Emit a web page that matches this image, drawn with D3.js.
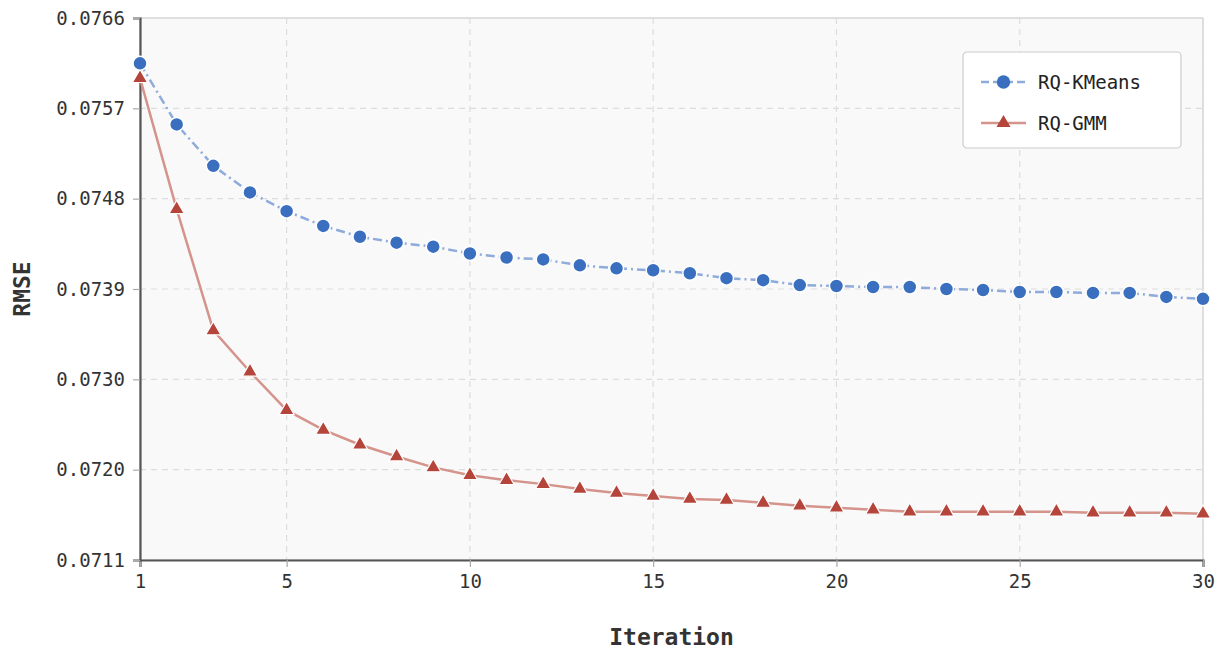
<!DOCTYPE html>
<html>
<head>
<meta charset="utf-8">
<script src="https://cdn.jsdelivr.net/npm/d3@7/dist/d3.min.js"></script>
<style>
  body { margin: 0; background: #fff; }
  svg { display: block; font-family: "DejaVu Sans Mono", monospace; }
</style>
</head>
<body>
<script>
// data
var iterations = d3.range(1, 31);
var kmeansRmse = [0.07614, 0.07552, 0.07510, 0.07483, 0.07464, 0.07449, 0.07438, 0.07432, 0.07428, 0.07421,
                  0.07417, 0.07415, 0.07409, 0.07406, 0.07404, 0.07401, 0.07396, 0.07394, 0.07389, 0.07388,
                  0.07387, 0.07387, 0.07385, 0.07384, 0.07382, 0.07382, 0.07381, 0.07381, 0.07377, 0.07375];
var gmmRmse = [0.07599, 0.07466, 0.07343, 0.07301, 0.07262, 0.07242, 0.07227, 0.07215, 0.07204, 0.07196,
               0.07191, 0.07187, 0.07182, 0.07178, 0.07175, 0.07172, 0.07171, 0.07168, 0.07165, 0.07163,
               0.07161, 0.07159, 0.07159, 0.07159, 0.07159, 0.07159, 0.07158, 0.07158, 0.07158, 0.07157];
var xTicks = [1, 5, 10, 15, 20, 25, 30];
var yTickLabels = ["0.0711", "0.0720", "0.0730", "0.0739", "0.0748", "0.0757", "0.0766"];
var Y_MIN = 0.0711, Y_MAX = 0.0766;

var W = 1228, H = 658;
var margin = {top: 18, right: 25, bottom: 98, left: 140};
var innerW = W - margin.left - margin.right;
var innerH = H - margin.top - margin.bottom;

var svg = d3.select("body").append("svg")
    .attr("width", W)
    .attr("height", H);

var g = svg.append("g")
    .attr("transform", "translate(" + margin.left + "," + margin.top + ")");

var x = d3.scaleLinear().domain([1, 30]).range([0, innerW]);
var y = d3.scaleLinear().domain([Y_MIN, Y_MAX]).range([innerH, 0]);

var yTicks = yTickLabels.map(function(d, i) { return Y_MIN + i * (Y_MAX - Y_MIN) / 6; });

// plot background + frame
g.append("rect")
    .attr("width", innerW).attr("height", innerH)
    .attr("fill", "#f9f9f9")
    .attr("stroke", "#cccccc").attr("stroke-width", 1.2);

// grid
g.append("g").selectAll("line.gx")
    .data(xTicks.slice(1))
    .enter().append("line")
    .attr("x1", function(d) { return x(d); }).attr("x2", function(d) { return x(d); })
    .attr("y1", 0).attr("y2", innerH)
    .attr("stroke", "#dddddd").attr("stroke-width", 1.2).attr("stroke-dasharray", "6,5");

g.append("g").selectAll("line.gy")
    .data(yTicks.slice(1, -1))
    .enter().append("line")
    .attr("x1", 0).attr("x2", innerW)
    .attr("y1", function(d) { return y(d); }).attr("y2", function(d) { return y(d); })
    .attr("stroke", "#dddddd").attr("stroke-width", 1.2).attr("stroke-dasharray", "6,5");

// axes
var xAxis = g.append("g")
    .attr("transform", "translate(0," + innerH + ")")
    .call(d3.axisBottom(x).tickValues(xTicks).tickSize(7).tickPadding(8).tickFormat(d3.format("d")));
var yAxis = g.append("g")
    .call(d3.axisLeft(y).tickValues(yTicks).tickSize(7).tickPadding(8)
        .tickFormat(function(d, i) { return yTickLabels[i]; }));

[xAxis, yAxis].forEach(function(ax) {
    ax.select(".domain").attr("stroke", "#555").attr("stroke-width", 2.2);
    ax.selectAll(".tick line").attr("stroke", "#aaa").attr("stroke-width", 1.2);
    ax.selectAll(".tick text").attr("fill", "#333").style("font-size", "19px")
        .style("font-family", "'DejaVu Sans Mono', monospace");
});

// series
var kmeansData = iterations.map(function(d, i) { return {x: d, y: kmeansRmse[i]}; });
var gmmData = iterations.map(function(d, i) { return {x: d, y: gmmRmse[i]}; });

var line = d3.line()
    .x(function(d) { return x(d.x); })
    .y(function(d) { return y(d.y); });

var BLUE_LINE = "#8eabdc", BLUE = "#3a6fc0";
var RED_LINE = "#d4948b", RED = "#b5443a";

g.append("path").datum(gmmData)
    .attr("d", line).attr("fill", "none")
    .attr("stroke", RED_LINE).attr("stroke-width", 2.5);

g.append("path").datum(kmeansData)
    .attr("d", line).attr("fill", "none")
    .attr("stroke", BLUE_LINE).attr("stroke-width", 2.5)
    .attr("stroke-dasharray", "9,4,2,4");

var tri = d3.symbol().type(d3.symbolTriangle).size(100);

g.append("g").selectAll("path")
    .data(gmmData)
    .enter().append("path")
    .attr("d", tri)
    .attr("transform", function(d) { return "translate(" + x(d.x) + "," + y(d.y) + ")"; })
    .attr("fill", RED).attr("stroke", "#fff").attr("stroke-width", 1.2);

g.append("g").selectAll("circle")
    .data(kmeansData)
    .enter().append("circle")
    .attr("cx", function(d) { return x(d.x); })
    .attr("cy", function(d) { return y(d.y); })
    .attr("r", 7)
    .attr("fill", BLUE).attr("stroke", "#fff").attr("stroke-width", 1.5);

// axis titles
svg.append("text")
    .attr("x", margin.left + innerW / 2).attr("y", 645)
    .attr("text-anchor", "middle")
    .style("font-size", "23px").style("font-weight", "bold").attr("fill", "#333")
    .text("Iteration");

svg.append("text")
    .attr("transform", "translate(30," + (margin.top + innerH / 2) + ") rotate(-90)")
    .attr("text-anchor", "middle")
    .style("font-size", "23px").style("font-weight", "bold").attr("fill", "#333")
    .text("RMSE");

// legend
var legend = svg.append("g").attr("transform", "translate(963,52)");
legend.append("rect")
    .attr("width", 218).attr("height", 96).attr("rx", 4)
    .attr("fill", "#fff").attr("stroke", "#cccccc").attr("stroke-width", 1.2);

var legendItems = [
    {name: "RQ-KMeans", lineColor: BLUE_LINE, color: BLUE, dash: "8,4", shape: "circle"},
    {name: "RQ-GMM", lineColor: RED_LINE, color: RED, dash: null, shape: "triangle"}
];

var item = legend.selectAll("g.item")
    .data(legendItems)
    .enter().append("g")
    .attr("transform", function(d, i) { return "translate(18," + (30 + i * 41) + ")"; });

item.append("line")
    .attr("x1", 0).attr("x2", 45)
    .attr("stroke", function(d) { return d.lineColor; })
    .attr("stroke-width", 2.5)
    .attr("stroke-dasharray", function(d) { return d.dash; });

item.append("path")
    .attr("transform", "translate(22.5,0)")
    .attr("d", function(d) {
        return d.shape === "circle"
            ? d3.symbol().type(d3.symbolCircle).size(140)()
            : d3.symbol().type(d3.symbolTriangle).size(85)();
    })
    .attr("fill", function(d) { return d.color; });

item.append("text")
    .attr("x", 57).attr("dy", "0.35em")
    .style("font-size", "19px").attr("fill", "#222")
    .text(function(d) { return d.name; });
</script>
</body>
</html>
